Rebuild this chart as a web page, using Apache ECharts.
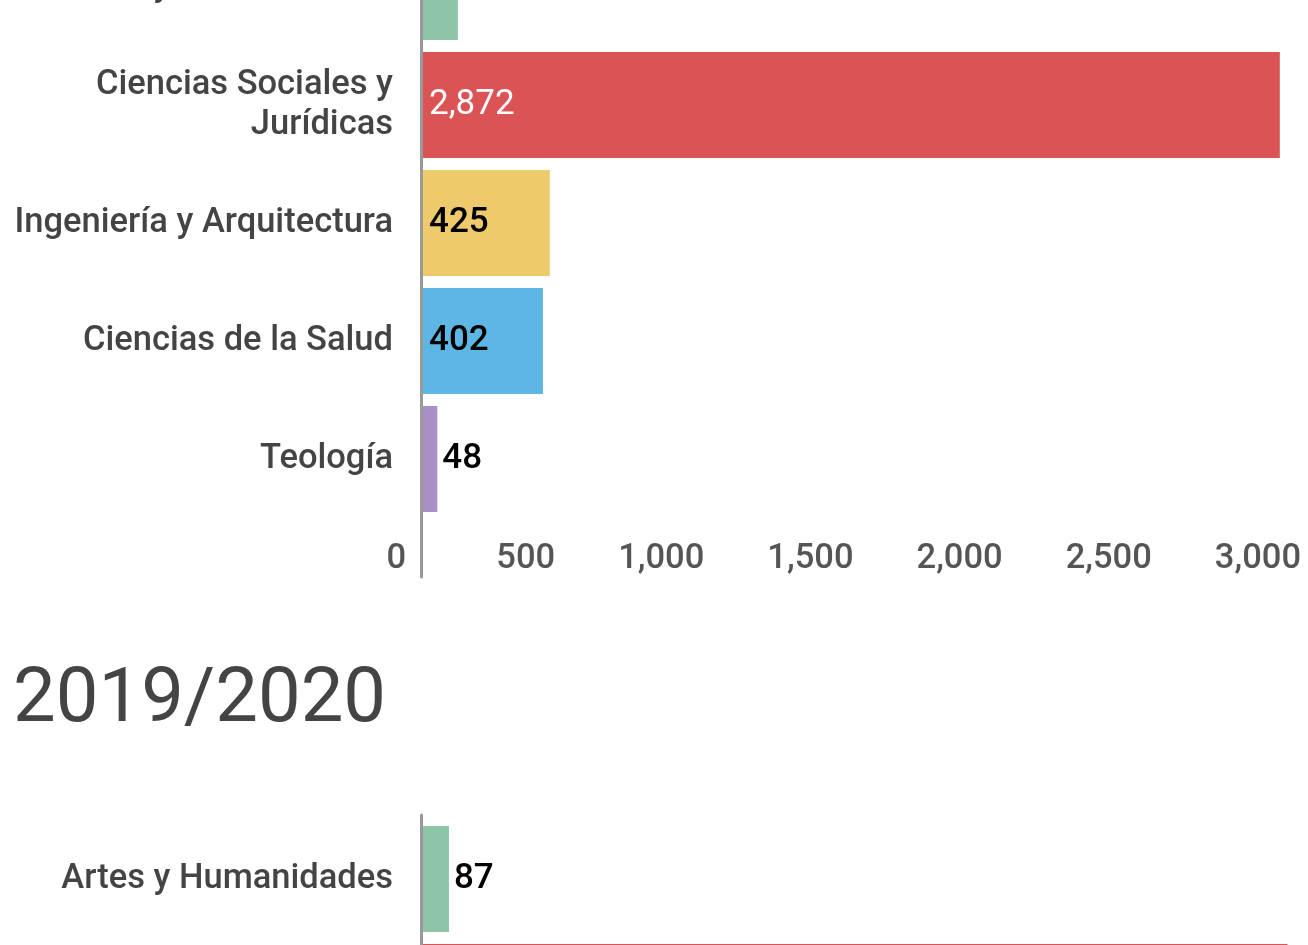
<!DOCTYPE html>
<html>
<head>
<meta charset="utf-8">
<script src="https://cdn.jsdelivr.net/npm/echarts@6/dist/echarts.min.js"></script>
<style>
  html, body { margin: 0; padding: 0; background: #fff; }
  #chart { width: 1308px; height: 945px; }
</style>
</head>
<body>
<div id="chart"></div>
<script>
  // 2018/2019 (top chart, cut off at the top)
  const categories1819 = ['Artes y Humanidades', 'Ciencias Sociales y Jurídicas', 'Ingeniería y Arquitectura', 'Ciencias de la Salud', 'Teología'];
  const values1819 = [117, 2872, 425, 402, 48];
  // 2019/2020 (only the first rows are visible)
  const categories1920 = ['Artes y Humanidades', 'Ciencias Sociales y Jurídicas'];
  const values1920 = [87, 2898];
  const barColors = ['#8ec5a8', '#dc5356', '#efca6c', '#5eb6e4', '#a890c6'];
  const labelColors = ['#000', '#fff', '#000', '#000', '#000'];
  const axisMax = 3000;
  const axisStep = 500;
  const sectionTitle = '2019/2020';

  const FONT = 'Roboto';
  const fmt = v => v.toLocaleString('en-US');

  // etiquetas largas en dos lineas
  function wrapLabel (s) {
    if (s.length <= 26) return s;
    const i = s.lastIndexOf(' ');
    return s.slice(0, i) + '\n' + s.slice(i + 1);
  }

  function barData (values) {
    return values.map((v, i) => {
      const inside = v > 300;
      return {
        value: v,
        itemStyle: { color: barColors[i] },
        label: {
          position: inside ? 'insideLeft' : 'right',
          distance: inside ? 6 : 5,
          color: labelColors[i],
          fontWeight: i === 1 ? 400 : 500
        }
      };
    });
  }

  const catAxis = (grid, data) => ({
    type: 'category',
    gridIndex: grid,
    data: data,
    inverse: true,
    axisLine: { show: false },
    axisTick: { show: false },
    axisLabel: {
      formatter: wrapLabel,
      margin: 30,
      padding: [6, 0, 0, 0],
      fontFamily: FONT,
      fontSize: 34.5,
      fontWeight: 500,
      lineHeight: 40,
      color: '#444'
    }
  });

  // ejes auxiliares solo para dibujar la linea vertical gris
  const lineAxisY = grid => ({
    type: 'value', gridIndex: grid, min: 0, max: 1,
    axisLine: { show: true, lineStyle: { color: '#999', width: 3 } },
    axisTick: { show: false }, axisLabel: { show: false }, splitLine: { show: false }
  });
  const hiddenX = grid => ({ type: 'value', gridIndex: grid, min: 0, max: 1, show: false });

  const chart = echarts.init(document.getElementById('chart'));
  chart.setOption({
    animation: false,
    backgroundColor: '#fff',
    title: {
      text: sectionTitle,
      left: 8,
      top: 659,
      textStyle: { fontFamily: FONT, fontSize: 76, fontWeight: 400, color: '#444' }
    },
    grid: [
      { left: 423, right: -10, top: -72, height: 590, outerBoundsMode: 'none' },
      { left: 421, right: 0, top: -80, height: 657, outerBoundsMode: 'none' },
      { left: 423, right: -10, top: 820, height: 236, outerBoundsMode: 'none' },
      { left: 421, right: 0, top: 815, height: 300, outerBoundsMode: 'none' }
    ],
    xAxis: [
      {
        type: 'value', gridIndex: 0, min: 0, max: axisMax, interval: axisStep,
        axisLine: { show: false }, axisTick: { show: false }, splitLine: { show: false },
        axisLabel: {
          formatter: fmt,
          align: 'right',
          padding: [0, 17, 0, 0],
          margin: 24,
          fontFamily: FONT,
          fontSize: 34.5,
          fontWeight: 500,
          lineHeight: 34,
          color: '#555',
          showMinLabel: true,
          showMaxLabel: true
        }
      },
      hiddenX(1),
      { type: 'value', gridIndex: 2, min: 0, max: axisMax, show: false },
      hiddenX(3)
    ],
    yAxis: [
      catAxis(0, categories1819),
      lineAxisY(1),
      catAxis(2, categories1920),
      lineAxisY(3)
    ],
    series: [
      {
        type: 'bar', xAxisIndex: 0, yAxisIndex: 0, barWidth: 106, z: 3,
        label: { show: true, formatter: p => fmt(p.value), fontFamily: FONT, fontSize: 35, padding: [3, 0, 0, 0] },
        data: barData(values1819)
      },
      {
        type: 'bar', xAxisIndex: 2, yAxisIndex: 2, barWidth: 106, z: 3,
        label: { show: true, formatter: p => fmt(p.value), fontFamily: FONT, fontSize: 35, padding: [3, 0, 0, 0] },
        data: barData(values1920)
      }
    ]
  });
</script>
</body>
</html>
